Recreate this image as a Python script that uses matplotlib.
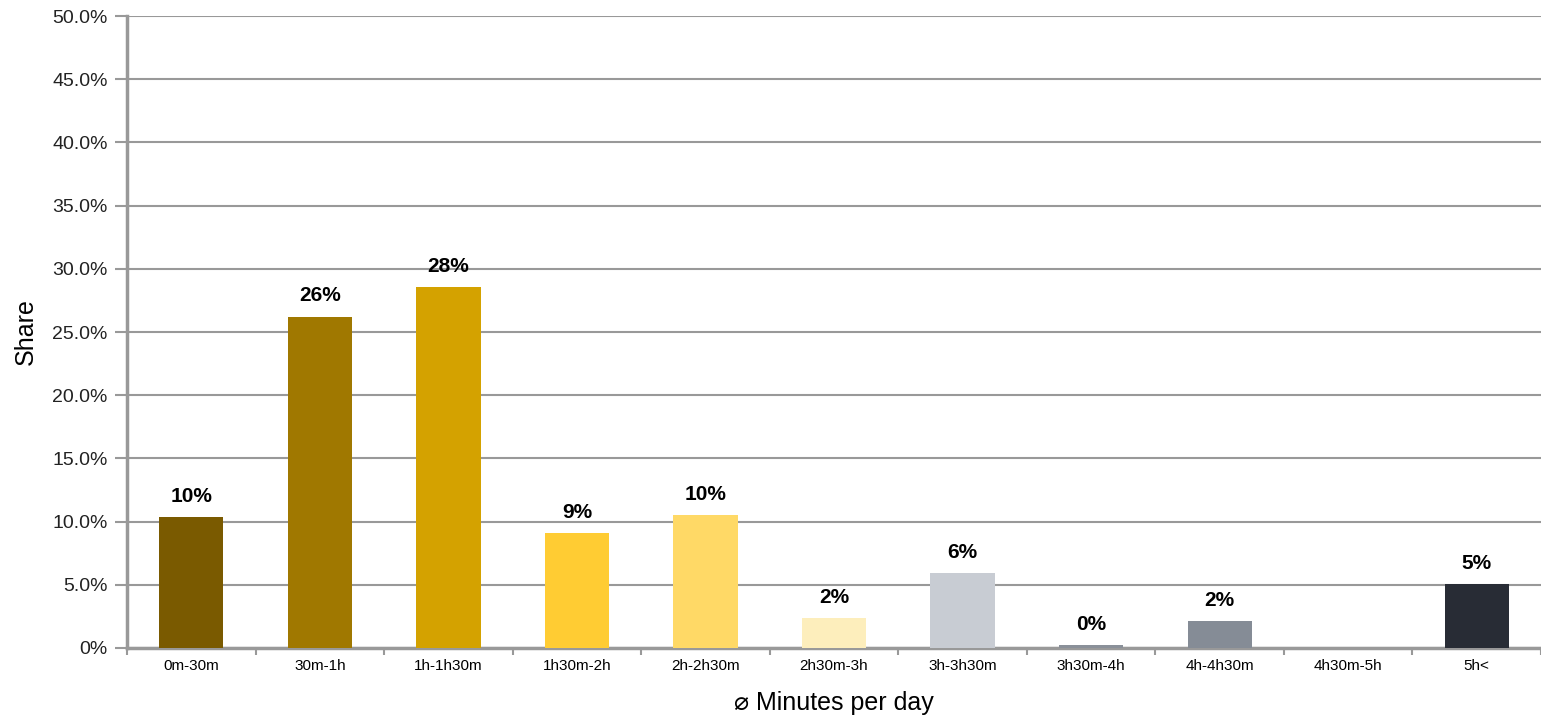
import matplotlib
matplotlib.use("Agg")
import matplotlib.pyplot as plt
from matplotlib.ticker import FixedLocator

plt.rcParams['font.family'] = ['Liberation Sans', 'DejaVu Sans']

categories = ["0m-30m", "30m-1h", "1h-1h30m", "1h30m-2h", "2h-2h30m", "2h30m-3h",
              "3h-3h30m", "3h30m-4h", "4h-4h30m", "4h30m-5h", "5h<"]
shares = [10.35, 26.2, 28.55, 9.1, 10.5, 2.35, 5.9, 0.2, 2.1, 0.0, 5.05]
labels = ["10%", "26%", "28%", "9%", "10%", "2%", "6%", "0%", "2%", "", "5%"]
colors = ["#7a5a00", "#a07800", "#d4a200", "#ffcc33", "#ffd966", "#fdeebc",
          "#c8ccd3", "#8a9099", "#858c96", "#858c96", "#282c35"]
yticks = [0, 5, 10, 15, 20, 25, 30, 35, 40, 45, 50]
ytick_labels = ["0%", "5.0%", "10.0%", "15.0%", "20.0%", "25.0%", "30.0%",
                "35.0%", "40.0%", "45.0%", "50.0%"]

fig = plt.figure(figsize=(15.41, 7.16), dpi=100)
ax = fig.add_axes([127/1541, 68/716, (1541-127)/1541, 632/716])

x = list(range(len(categories)))
ax.bar(x, shares, width=0.5, color=colors, zorder=3)
for xi, v, lab in zip(x, shares, labels):
    if lab:
        ax.text(xi, v + 0.9, lab, ha='center', va='bottom', fontsize=15,
                fontweight='bold', color='black')

ax.set_xlim(-0.5, len(categories) - 0.5)
ax.set_ylim(0, 50)
ax.set_yticks(yticks)
ax.set_yticklabels(ytick_labels, fontsize=14, color='#222222')
ax.yaxis.grid(True, color='#999999', linewidth=1.5, zorder=0)
ax.set_axisbelow(True)

ax.set_xticks(x)
ax.set_xticklabels(categories, fontsize=11)
ax.tick_params(axis='x', which='major', length=0, pad=8)
ax.xaxis.set_minor_locator(FixedLocator([i - 0.5 for i in range(len(categories) + 1)]))
ax.tick_params(axis='x', which='minor', length=5, width=1.5, color='#999999', direction='out')
ax.tick_params(axis='y', length=9, width=1.5, color='#999999', direction='out', pad=5)

for s in ['top', 'right']:
    ax.spines[s].set_visible(False)
for s in ['left', 'bottom']:
    ax.spines[s].set_color('#999999')
    ax.spines[s].set_linewidth(2.5)

ax.set_ylabel("Share", fontsize=18, labelpad=10)
ax.set_xlabel("\u2300 Minutes per day", fontsize=18, labelpad=13)

fig.savefig("out.png", dpi=100)
